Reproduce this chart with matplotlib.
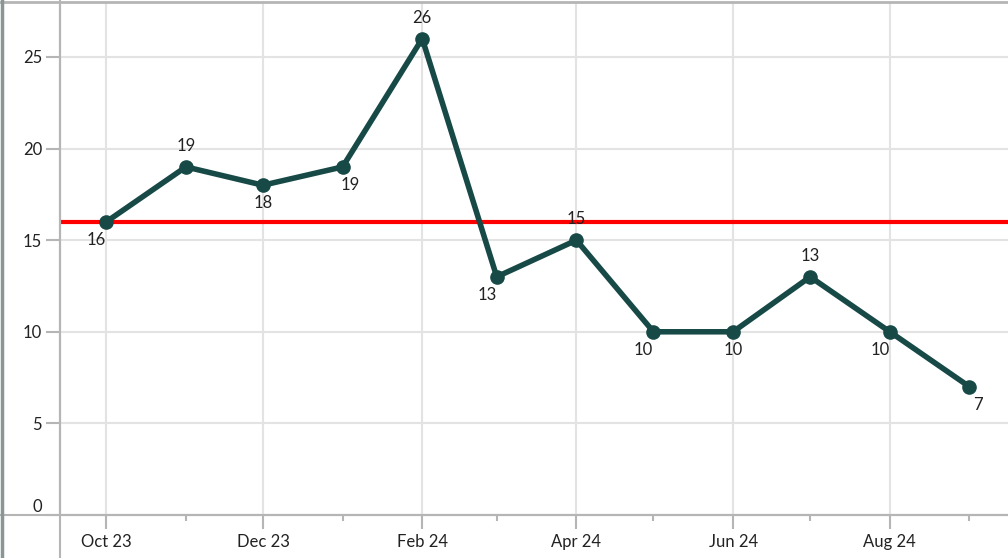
import matplotlib
matplotlib.use("Agg")
import matplotlib.pyplot as plt
import matplotlib.dates as mdates
from matplotlib.lines import Line2D
import pandas as pd

months = ["2023-10", "2023-11", "2023-12", "2024-01", "2024-02", "2024-03",
          "2024-04", "2024-05", "2024-06", "2024-07", "2024-08", "2024-09"]
values = [16, 19, 18, 19, 26, 13, 15, 10, 10, 13, 10, 7]
target = 16
# label placement per point
label_pos = ["below_left", "above", "below", "below_right", "above", "below_left",
             "above", "below_left", "below", "above", "below_left", "below_right"]

dates = pd.to_datetime(months)

plt.rcParams['font.family'] = ['Lato', 'DejaVu Sans']
W, H = 1008, 558
fig = plt.figure(figsize=(W / 100, H / 100), dpi=100)
ax = fig.add_axes([60 / W, (H - 515) / H, (1008 - 60) / W, (515 - 2) / H])

line_col = "#174a47"
ax.axhline(target, color="#ff0000", lw=3, zorder=2)
ax.plot(dates, values, color=line_col, lw=4, marker="o", ms=9.5, zorder=3,
        solid_joinstyle="round")

offs = {"above": (0, 21), "below": (0, -18), "below_right": (8, -18),
        "below_left": (-10, -18)}
for d, v, p in zip(dates, values, label_pos):
    dx, dy = offs[p]
    ax.annotate(str(v), (d, v), xytext=(dx, dy), textcoords="offset pixels",
                ha="center", va="center", fontsize=12, color="#222222")

ax.set_ylim(0, 28)
ax.set_yticks([0, 5, 10, 15, 20, 25])
ax.set_xlim(pd.Timestamp("2023-09-13"), pd.Timestamp("2024-09-16"))
ax.xaxis.set_major_locator(mdates.MonthLocator(bymonth=[2, 4, 6, 8, 10, 12]))
ax.xaxis.set_minor_locator(mdates.MonthLocator(bymonth=[1, 3, 5, 7, 9, 11]))
ax.xaxis.set_major_formatter(mdates.DateFormatter("%b %y"))

grid_c = "#e3e3e3"
ax.grid(True, which="major", color=grid_c, lw=1.5, zorder=0)
ax.set_axisbelow(True)
for s in ["top", "right"]:
    ax.spines[s].set_visible(False)
for s in ["left", "bottom"]:
    ax.spines[s].set_color("#b5b5b5")
    ax.spines[s].set_linewidth(1.5)
ax.tick_params(axis="both", which="major", colors="#b5b5b5", labelcolor="#222222",
               labelsize=12, width=1.5, length=10)
ax.tick_params(axis="x", which="major", pad=4)
ax.tick_params(axis="x", which="minor", colors="#b5b5b5", width=1.5, length=4)
ax.tick_params(axis="y", pad=3)
ax.figure.canvas.draw()
for t in ax.get_yticklabels():
    if t.get_text() == "0":
        t.set_va("bottom")

# outer frame lines
fig.add_artist(Line2D([0, 1], [(H - 515) / H] * 2, color="#b5b5b5", lw=1.5))
fig.add_artist(Line2D([60 / W] * 2, [0, 1], color="#b5b5b5", lw=1.5))
fig.add_artist(Line2D([0, 1], [1 - 2 / H] * 2, color="#b5b5b5", lw=2))
fig.add_artist(Line2D([2 / W] * 2, [0, 1], color="#8a9596", lw=2.5))

fig.savefig("out.png", dpi=100)
